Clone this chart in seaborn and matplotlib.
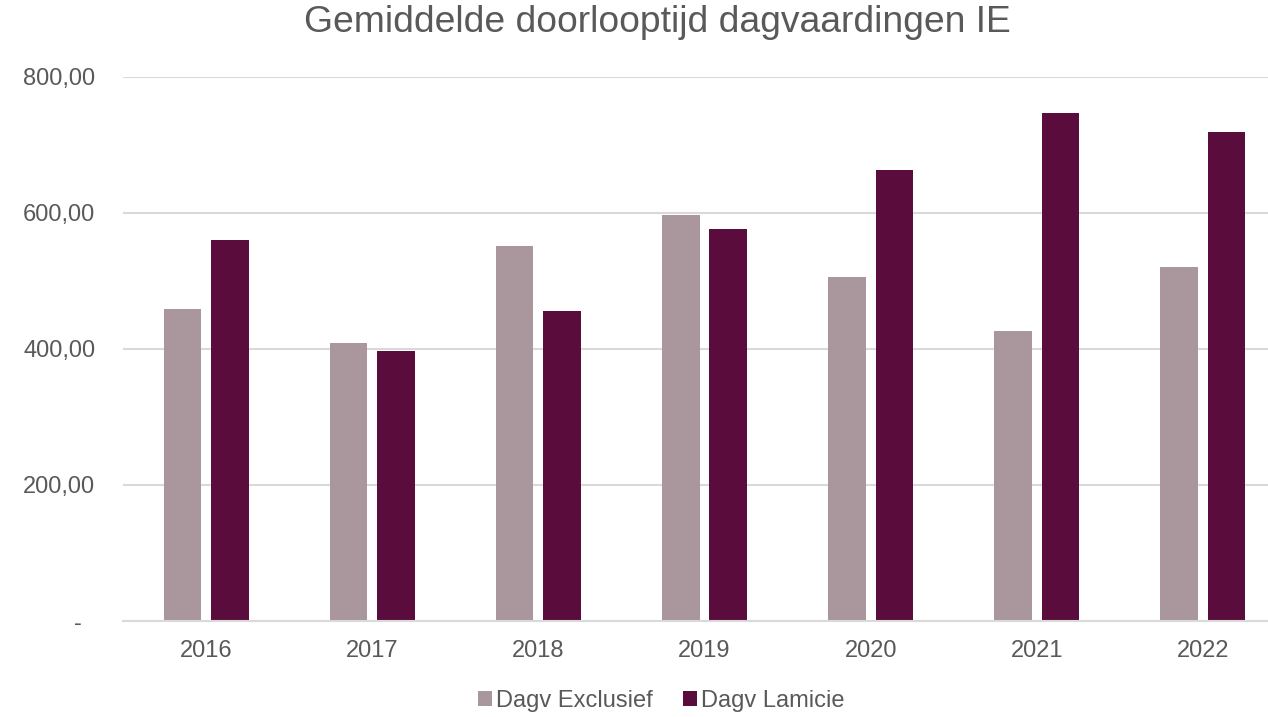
import matplotlib
matplotlib.use("Agg")
import matplotlib.pyplot as plt
import seaborn as sns
import pandas as pd
from matplotlib.ticker import FuncFormatter

years = ["2016", "2017", "2018", "2019", "2020", "2021", "2022"]
exclusief = [459, 409, 551, 597, 506, 426, 521]
lamicie = [560, 397, 456, 576, 663, 747, 719]
series_names = ["Dagv Exclusief", "Dagv Lamicie"]
title = "Gemiddelde doorlooptijd dagvaardingen IE"

df = pd.DataFrame({
    "year": years * 2,
    "value": exclusief + lamicie,
    "series": [series_names[0]] * len(years) + [series_names[1]] * len(years),
})

sns.set_theme(style="white")
plt.rcParams["font.family"] = ["Liberation Sans", "DejaVu Sans"]

text_color = "#595959"
grid_color = "#D9D9D9"
palette = {series_names[0]: "#A9979D", series_names[1]: "#5A0C3C"}

fig = plt.figure(figsize=(12.68, 7.17), dpi=100)
W, H = 1268, 717
left, right, bottom_px, top_px = 123, 1286, 621, 77
ax = fig.add_axes([left / W, 1 - bottom_px / H, (right - left) / W, (bottom_px - top_px) / H])

sns.barplot(data=df, x="year", y="value", hue="series", palette=palette,
            width=0.572, gap=0.21, ax=ax, legend=True, saturation=1,
            edgecolor="none", linewidth=0)

ax.set_xlim(-0.5, 6.5)
ax.set_ylim(0, 800)
ax.set_yticks([0, 200, 400, 600, 800])
ax.yaxis.set_major_formatter(FuncFormatter(lambda v, p: "-  " if v == 0 else f"{v:.2f}".replace(".", ",")))
ax.grid(axis="y", color=grid_color, linewidth=1.5)
ax.set_axisbelow(True)
for s in ["left", "right", "top"]:
    ax.spines[s].set_visible(False)
ax.spines["bottom"].set_color(grid_color)
ax.spines["bottom"].set_linewidth(1.5)
ax.tick_params(axis="y", length=0, pad=20, labelsize=17, labelcolor=text_color)
ax.tick_params(axis="x", length=0, pad=14, labelsize=17, labelcolor=text_color)
ax.set_xlabel("")
ax.set_ylabel("")

handles, labels = ax.get_legend_handles_labels()
ax.legend_.remove()
fig.legend(handles, labels, loc="center", bbox_to_anchor=(661 / W, 1 - 701 / H),
           ncol=2, frameon=False, fontsize=17, labelcolor=text_color,
           handlelength=0.6, handleheight=0.6, handletextpad=0.15, columnspacing=1.3)

fig.text(657 / W, 1 - 22 / H, title, ha="center", va="center", fontsize=26.8, color=text_color)

fig.savefig("out.png", dpi=100)
